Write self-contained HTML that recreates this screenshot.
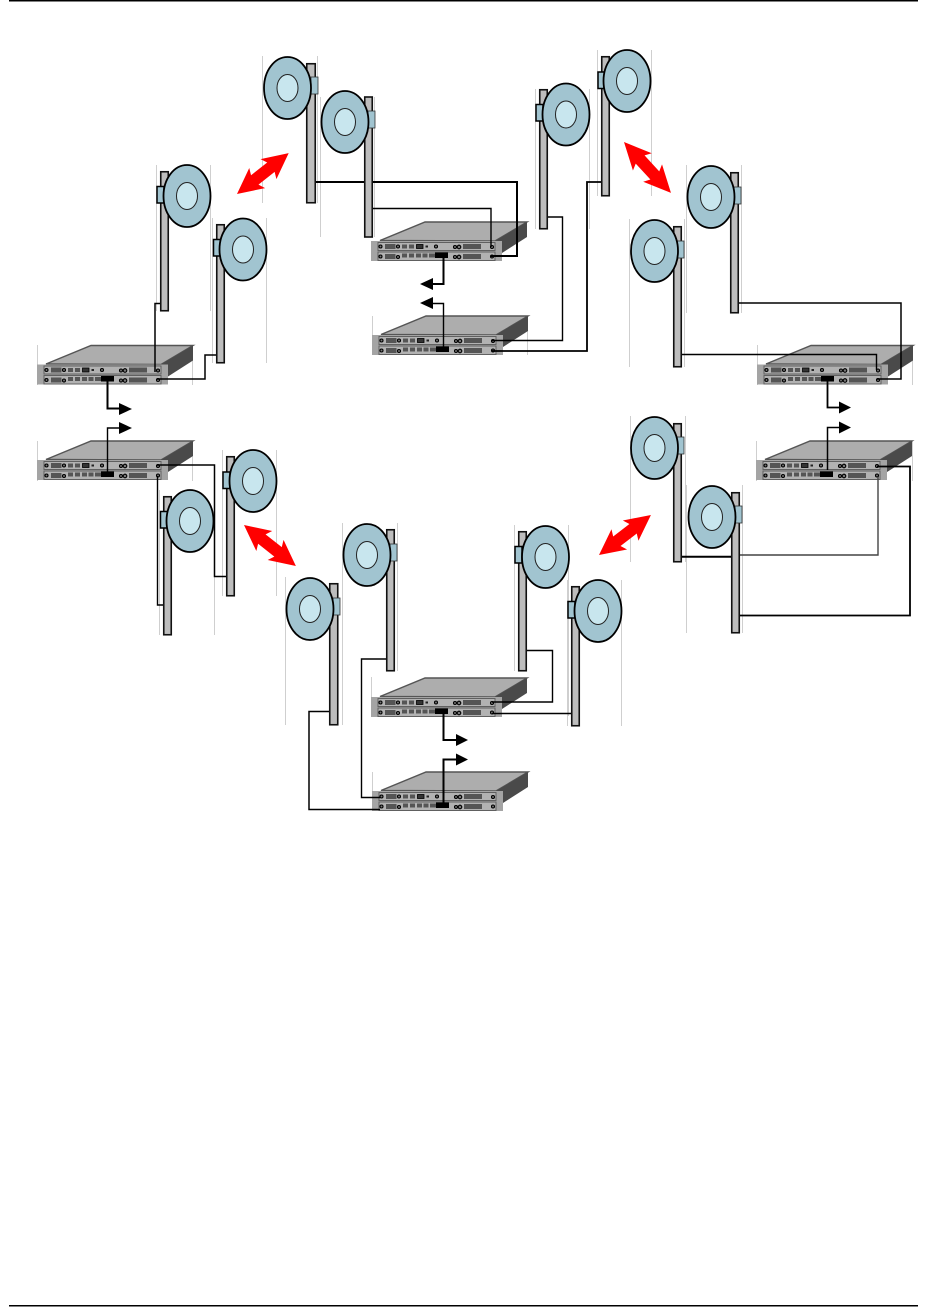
<!DOCTYPE html>
<html><head><meta charset="utf-8"><style>html,body{margin:0;padding:0;background:#fff;width:929px;height:1307px;overflow:hidden}svg{display:block}</style></head><body>
<svg width="929" height="1307" viewBox="0 0 929 1307" xmlns="http://www.w3.org/2000/svg">
<defs>
<g id="d"><ellipse cx="0" cy="0" rx="23.5" ry="31" fill="#a1c4d0" stroke="#000" stroke-width="1.800"/><ellipse cx="0" cy="0" rx="10.5" ry="13.5" fill="#c8e6ee" stroke="#222" stroke-width="1"/></g>
<g id="r">
<polygon points="9,18.5 54,0 156,0 124,19" fill="#adadad" stroke="#555" stroke-width="1.400"/>
<polygon points="124,19 156,0 156,15 131,31 131,39 124,39" fill="#4a4a4a"/>
<rect x="0" y="19" width="131" height="20" fill="#a4a4a4"/>
<rect x="7" y="20.5" width="117" height="8" fill="#b2b2b2" stroke="#606060" stroke-width="1"/>
<rect x="7" y="30" width="117" height="8.5" fill="#b2b2b2" stroke="#606060" stroke-width="1"/>
<g fill="#555">
<rect x="14" y="22" width="10.500" height="5"/><rect x="31" y="22.500" width="5" height="4"/><rect x="38" y="22.500" width="5" height="4"/><rect x="92" y="22" width="18" height="5"/>
<rect x="14" y="32" width="10.500" height="5"/><rect x="31" y="31.500" width="5" height="4"/><rect x="38" y="31.500" width="5" height="4"/><rect x="45" y="31.500" width="5" height="4"/><rect x="51.500" y="31.500" width="5" height="4"/><rect x="58" y="31.500" width="6" height="4"/><rect x="92" y="32" width="18" height="5"/>
</g>
<rect x="45.500" y="22.500" width="6.500" height="4" fill="#333" stroke="#000" stroke-width=".8"/><rect x="54.500" y="23.500" width="2.500" height="2" fill="#222"/>
<rect x="64" y="30.500" width="13" height="5.500" fill="#000"/>
<g fill="#777" stroke="#000" stroke-width="1.100"><circle cx="9.500" cy="24.500" r="1.500"/><circle cx="27" cy="24.500" r="1.500"/><circle cx="65" cy="24.500" r="1.500"/><circle cx="84" cy="25" r="1.500"/><circle cx="88" cy="25" r="1.800"/><circle cx="121" cy="25" r="1.500"/>
<circle cx="9.500" cy="34.500" r="1.500"/><circle cx="27" cy="35" r="1.500"/><circle cx="84" cy="35" r="1.500"/><circle cx="88" cy="35" r="1.800"/><circle cx="121" cy="34.500" r="1.500"/></g>
</g>
<polygon id="ra" points="0,0 25,-12.800 22,-6 42,-6 39,-12.800 64,0 39,12.800 42,6 22,6 25,12.800" fill="#f00"/>
</defs>

<rect x="9" y="0" width="909" height="1.500" fill="#000"/>
<rect x="9" y="1305" width="909" height="1.500" fill="#000"/>

<!-- faint guide lines -->
<g stroke="#cfcfcf" stroke-width="1" fill="none">
<path d="M262.500 56V203M317.500 56V203M320.500 97V237M374.500 97V237"/>
<path d="M535.500 89V229M589.500 89V229M597.500 50V196M651.500 50V196"/>
<path d="M686.500 165V313M741.500 165V313M629.500 219V367M684.500 219V367"/>
<path d="M630.500 416V562M685.500 416V562M686.500 485V633M742.500 485V633"/>
<path d="M156.500 165V311M210.500 165V311M212.500 218V363M266.500 218V363"/>
<path d="M222.500 450V596M276.500 450V596M159.500 490V635M214.500 490V635"/>
<path d="M285.500 577V725M342.500 577V725M342.500 523V671M397.500 523V671"/>
<path d="M514.500 525V671M568.500 525V716M567.500 580V726M621.500 580V726"/>
<path d="M372.500 316V355M527.500 316V355M37.500 345V385M192.500 345V385M37.500 441V481M192.500 441V481M757.500 345V385M912.500 345V385M756.500 441V481M912.500 441V481M371.500 677V717M372.500 772V811"/>
</g>

<!-- routers -->
<use href="#r" x="371" y="222"/>
<use href="#r" x="372" y="316"/>
<use href="#r" x="37" y="345.500"/>
<use href="#r" x="37" y="441"/>
<use href="#r" x="757" y="345.500"/>
<use href="#r" x="756" y="441"/>
<use href="#r" x="371" y="678"/>
<use href="#r" x="372" y="772"/>

<!-- wires -->
<g fill="none" stroke="#000" stroke-width="1.400">
<path d="M313 182H517V256H491" stroke-width="2"/>
<path d="M372 208.500H491V247"/>
<path d="M443.500 254V284H432" stroke-width="2"/>
<path d="M443.500 347V303.500H432"/>
<path d="M546 217H562.500V340.500H492"/>
<path d="M601 182H587V351H492" stroke-width="1.800"/>
<path d="M160 303.500H155V372" stroke-width="1.500"/>
<path d="M216 355H205V379H157" stroke-width="1.500"/>
<path d="M107.500 380V408.500H120" stroke-width="2"/>
<path d="M107.500 472V428H120"/>
<path d="M157 465H214.500V576.500H226" stroke-width="1.500"/>
<path d="M157.500 476V605H163"/>
<path d="M738 303H901V379H877" stroke-width="1.500"/>
<path d="M682 354.500H876.500V370"/>
<path d="M827.500 380V407.500H840" stroke-width="1.800"/>
<path d="M827.500 470V427.500H840" stroke-width="1.500"/>
<path d="M877 466.500H910V615.500H739" stroke-width="1.800"/>
<path d="M878 477V555H739" stroke="#444"/>
<path d="M682 556.700H731" stroke-width="2"/>
<path d="M527 650.500H552.500V702H492"/>
<path d="M571 713.500H492"/>
<path d="M443.500 712V740H457" stroke-width="2"/>
<path d="M443.500 805V759.500H457" stroke-width="2"/>
<path d="M386 659H361.500V797.500H380"/>
<path d="M329 711.500H309V809.500H380" stroke-width="1.500"/>
</g>

<!-- arrowheads -->
<g fill="#000">
<polygon points="420,284 433,278 433,290"/><polygon points="420,303 433,297 433,309"/>
<polygon points="132,409 119,403 119,415"/><polygon points="132,428 119,422 119,434"/>
<polygon points="851,407.500 839,401.500 839,413.500"/><polygon points="851,427.500 839,421.500 839,433.500"/>
<polygon points="468,740 456,734 456,746"/><polygon points="468,759.500 456,753.500 456,765.500"/>
</g>

<!-- poles -->
<g fill="#bdbdbd" stroke="#111" stroke-width="1.600">
<rect x="306.750" y="63.750" width="8.500" height="139"/>
<rect x="364.750" y="97" width="7.500" height="140"/>
<rect x="539.750" y="89.750" width="7.500" height="139"/>
<rect x="601.750" y="56.750" width="7.500" height="139"/>
<rect x="730.750" y="172.750" width="7.500" height="140"/>
<rect x="673.750" y="226.750" width="7.500" height="140"/>
<rect x="673.750" y="423.750" width="7.500" height="138"/>
<rect x="731.750" y="492.750" width="7.500" height="140"/>
<rect x="160.750" y="171.750" width="7.500" height="139"/>
<rect x="216.750" y="224.750" width="7.500" height="138"/>
<rect x="226.750" y="456.750" width="7.500" height="139"/>
<rect x="163.750" y="496.750" width="7.500" height="138"/>
<rect x="329.750" y="583.750" width="8" height="141"/>
<rect x="386.750" y="529.750" width="7.500" height="141"/>
<rect x="518.750" y="531.750" width="7.500" height="139"/>
<rect x="571.750" y="586.750" width="7.500" height="139"/>
</g>

<!-- connectors: left-facing dishes -->
<g fill="#a1c4d0" stroke="#333" stroke-width=".8">
<rect x="311" y="77" width="7" height="17"/>
<rect x="368" y="111" width="7" height="17"/>
<rect x="734" y="187" width="7" height="17"/>
<rect x="677" y="241" width="7" height="17"/>
<rect x="677" y="437" width="7" height="17"/>
<rect x="735" y="506" width="7" height="17"/>
<rect x="333" y="598" width="7" height="17"/>
<rect x="390" y="544" width="7" height="17"/>
</g>
<!-- connectors: right-facing dishes -->
<g fill="#a1c4d0" stroke="#000" stroke-width="1.500">
<rect x="536" y="104.500" width="7" height="16.500"/>
<rect x="598" y="72" width="7" height="16.500"/>
<rect x="157" y="186.500" width="7" height="16.500"/>
<rect x="213.500" y="239.500" width="7" height="16.500"/>
<rect x="223" y="472" width="7" height="16.500"/>
<rect x="160.500" y="511.500" width="7" height="16.500"/>
<rect x="515" y="546.500" width="7" height="16.500"/>
<rect x="568" y="601.500" width="7" height="16.500"/>
</g>

<!-- dishes -->
<use href="#d" x="287.500" y="88"/>
<use href="#d" x="345" y="122"/>
<use href="#d" x="566" y="114.500"/>
<use href="#d" x="627" y="81"/>
<use href="#d" x="711" y="197"/>
<use href="#d" x="654.500" y="251"/>
<use href="#d" x="654.500" y="448"/>
<use href="#d" x="712" y="517"/>
<use href="#d" x="187" y="196"/>
<use href="#d" x="243" y="249.500"/>
<use href="#d" x="253" y="481"/>
<use href="#d" x="190" y="521"/>
<use href="#d" x="310" y="609"/>
<use href="#d" x="367" y="555"/>
<use href="#d" x="545.500" y="557"/>
<use href="#d" x="598" y="611"/>

<!-- red arrows -->
<g transform="translate(237,194) rotate(-38.300) scale(1.029,1)"><use href="#ra"/></g>
<g transform="translate(624,142) rotate(47.300) scale(1.082,1)"><use href="#ra"/></g>
<g transform="translate(244,525) rotate(38.300) scale(1.033,1)"><use href="#ra"/></g>
<g transform="translate(599,555) rotate(-37.600) scale(1.024,1)"><use href="#ra"/></g>
</svg>
</body></html>
